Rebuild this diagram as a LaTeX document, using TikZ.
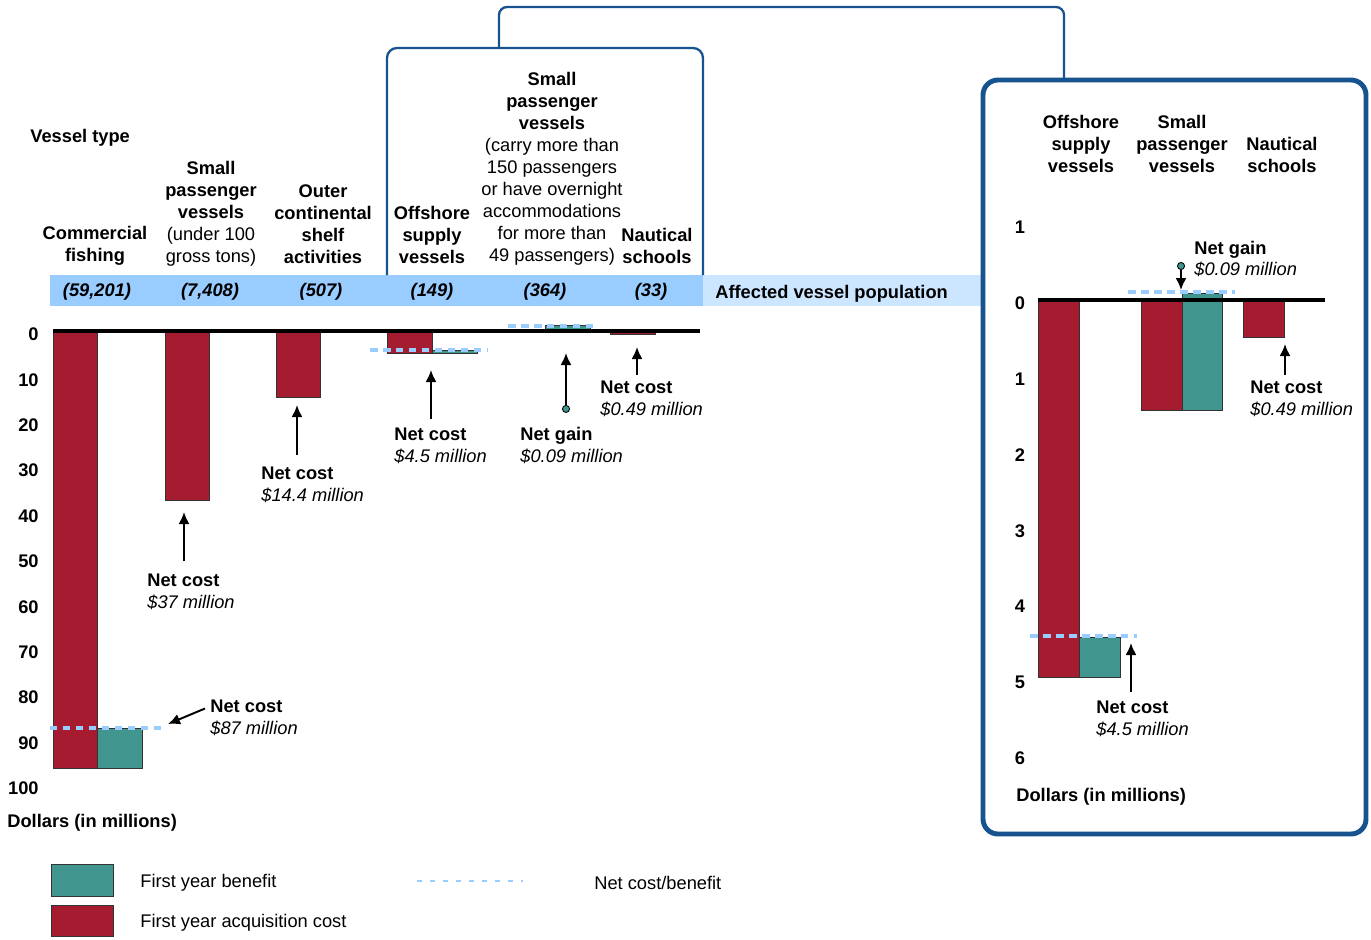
\documentclass[tikz,border=0pt]{standalone}
\usepackage{fontspec}
\setmainfont{Liberation Sans}
\usetikzlibrary{arrows.meta}

\newcommand{\chartfont}{\fontsize{10.4}{12.5}\selectfont}
\definecolor{cost}{HTML}{A51B30}
\definecolor{gain}{HTML}{40968E}
\definecolor{band}{HTML}{99CCFF}
\definecolor{bandlight}{HTML}{CCE6FF}
\definecolor{frame}{HTML}{17538F}
\definecolor{netline}{HTML}{99CCFF}

\begin{document}
\begin{tikzpicture}[
       x=0.02cm,
       y=-0.02cm,
       head/.style={align=center, inner sep=0pt, yshift=-0.04cm, font=\chartfont\bfseries},
       hplain/.style={align=center, inner sep=0pt, yshift=-0.04cm, font=\chartfont},
       plain/.style={anchor=west, inner sep=0pt, yshift=-0.04cm, font=\chartfont},
       count/.style={inner sep=0pt, yshift=-0.04cm, font=\chartfont\bfseries\itshape},
       tick/.style={inner sep=0pt, yshift=-0.03cm, font=\chartfont\bfseries},
       note/.style={align=left, anchor=west, inner sep=0pt, yshift=-0.04cm, font=\chartfont},
       costbar/.style={fill=cost, draw=black!80, line width=0.5pt},
       gainbar/.style={fill=gain, draw=black!80, line width=0.5pt},
       axisline/.style={line width=2.3pt},
       netdash/.style={draw=netline, line width=1.8pt, dash pattern=on 0.15cm off 0.11cm},
       legdash/.style={draw=netline, line width=1.1pt, dash pattern=on 0.1cm off 0.16cm},
       legbox/.style={draw=black!80, line width=0.5pt, minimum width=1.24cm, minimum height=0.63cm, inner sep=0pt},
       arr/.style={line width=1.1pt, -{Latex[length=2.4mm,width=2.2mm]}},
       gainarr/.style={line width=1.1pt, {Circle[length=1.6mm,fill=gain,line width=0.5pt]}-{Latex[length=2.4mm,width=2.2mm]}},
       frameline/.style={draw=frame, line width=1.3pt, rounded corners=0.2cm},
       panel/.style={draw=frame, line width=2.8pt, rounded corners=0.3cm}
     ]
       \useasboundingbox (0,0) rectangle (1371,939);

       % population band
       \fill[band] (50,275) rectangle (703,306);
       \fill[bandlight] (703,275) rectangle (983,306);

       % frames
       \draw[frameline] (387,275) -- (387,48) -- (703,48) -- (703,275);
       \draw[panel] (983,80) rectangle (1366,834);
       \coordinate (boxtop) at (499,48);
       \coordinate (paneltop) at (1064,80);
       \coordinate (linktop) at (780,7);
       \draw[frameline, rounded corners=0.16cm] (boxtop) |- (linktop) -| (paneltop);

       % headers
       \node (vt) at (30,136) [plain, font=\chartfont\bfseries] {Vessel type};
       \node (hcf) at (95,244) [head] {Commercial\\fishing};
       \node (hspv) at (211,212) [hplain] {\textbf{Small}\\\textbf{passenger}\\\textbf{vessels}\\(under 100\\gross tons)};
       \node (hocs) at (323,222) [head] {Outer\\continental\\shelf\\activities};
       \node (hosv) at (432,233) [head] {Offshore\\supply\\vessels};
       \node (hspl) at (552,166.5) [hplain] {\textbf{Small}\\\textbf{passenger}\\\textbf{vessels}\\(carry more than\\150 passengers\\or have overnight\\accommodations\\for more than\\49 passengers)};
       \node (hns) at (657,244) [head] {Nautical\\schools};

       \node (rhosv) at (1081,142) [head] {Offshore\\supply\\vessels};
       \node (rhspl) at (1182,142) [head] {Small\\passenger\\vessels};
       \node (rhns) at (1282,153) [head] {Nautical\\schools};

       % counts
       \node (ccf) at (97,290) [count] {(59,201)};
       \node (cspv) at (210,290) [count] {(7,408)};
       \node (cocs) at (321,290) [count] {(507)};
       \node (cosv) at (432,290) [count] {(149)};
       \node (cspl) at (545,290) [count] {(364)};
       \node (cns) at (651,290) [count] {(33)};
       \node (avp) at (715,292) [plain, font=\chartfont\bfseries] {Affected vessel population};

       % left chart
       \foreach \v in {0,10,...,100}
         \node (lt\v) at (39,{333+4.54*\v}) [tick, anchor=east] {\v};
       \node (lunit) at (7,821) [plain, font=\chartfont\bfseries] {Dollars (in millions)};

       \draw[costbar] (53,331) rectangle (97,768);
       \draw[gainbar] (97,728) rectangle (142,768);
       \draw[costbar] (165,331) rectangle (209,500);
       \draw[costbar] (276,331) rectangle (320,397);
       \draw[costbar] (387,331) rectangle (432,353);
       \draw[gainbar] (432,350) rectangle (477,353);
       \draw[gainbar] (545,325) rectangle (590,329);
       \draw[costbar] (610,331) rectangle (655,334);
       \draw[axisline] (53,331) -- (700,331);

       \draw[netdash] (50,728) -- (165,728);
       \draw[netdash] (370,350) -- (487,350);
       \draw[netdash] (508,326) -- (598,326);

       \node (nc87) at (210,715.5) [note] {\textbf{Net cost}\\\textit{\$87 million}};
       \node (nc37) at (147,589.5) [note] {\textbf{Net cost}\\\textit{\$37 million}};
       \node (nc144) at (261,483) [note] {\textbf{Net cost}\\\textit{\$14.4 million}};
       \node (nc45) at (394,443.5) [note] {\textbf{Net cost}\\\textit{\$4.5 million}};
       \node (ng09) at (520,443.5) [note] {\textbf{Net gain}\\\textit{\$0.09 million}};
       \node (nc049) at (600,397) [note] {\textbf{Net cost}\\\textit{\$0.49 million}};

       \coordinate (b87) at (168,724);
       \coordinate (b37) at (184,512);
       \coordinate (b144) at (297,405);
       \coordinate (b45) at (431,370);
       \coordinate (b09) at (566,353);
       \coordinate (b049) at (637,347);

       \draw[arr] ([shift={(-5,-9)}]nc87.west) -- (b87);
       \draw[arr] (b37 |- nc37.north) ++(0,-12) -- (b37);
       \draw[arr] (b144 |- nc144.north) ++(0,-12) -- (b144);
       \draw[arr] (b45 |- nc45.north) ++(0,-8) -- (b45);
       \draw[gainarr] (b09 |- ng09.north) ++(0,-14) -- (b09);
       \draw[arr] (b049 |- nc049.north) ++(0,-6) -- (b049);

       % right chart
       \foreach \v/\t in {-1/1,0/0,1/1,2/2,3/3,4/4,5/5,6/6}
         \node (rt\v) at (1020,{302+75.8*\v}) [tick] {\t};
       \node (runit) at (1016,795) [plain, font=\chartfont\bfseries] {Dollars (in millions)};

       \draw[costbar] (1038,300) rectangle (1079,677);
       \draw[gainbar] (1079,637) rectangle (1120,677);
       \draw[costbar] (1141,300) rectangle (1182,410);
       \draw[gainbar] (1182,293) rectangle (1222,410);
       \draw[costbar] (1243,300) rectangle (1284,337);
       \draw[axisline] (1038,300) -- (1325,300);

       \draw[netdash] (1030,636) -- (1137,636);
       \draw[netdash] (1128,292) -- (1235,292);

       \node (rng09) at (1194,257) [note] {\textbf{Net gain}\\\textit{\$0.09 million}};
       \node (rnc049) at (1250,397) [note] {\textbf{Net cost}\\\textit{\$0.49 million}};
       \node (rnc45) at (1096,717) [note] {\textbf{Net cost}\\\textit{\$4.5 million}};

       \coordinate (rb09) at (1181,290);
       \coordinate (rb049) at (1285,344);
       \coordinate (rb45) at (1131,643);

       \draw[gainarr] ([shift={(-13,3)}]rng09.west) -- (rb09);
       \draw[arr] (rb049 |- rnc049.north) ++(0,-6) -- (rb049);
       \draw[arr] (rb45 |- rnc45.north) ++(0,-9) -- (rb45);

       % legend
       \node (legben) at (82,880.5) [legbox, fill=gain] {};
       \node (legcost) at (82,921) [legbox, fill=cost] {};
       \node (legbentxt) at (140,881) [plain] {First year benefit};
       \node (legcosttxt) at (140,921) [plain] {First year acquisition cost};
       \coordinate (legd1) at (417,881);
       \coordinate (legd2) at (523,881);
       \draw[legdash] (legd1) -- (legd2);
       \node (legnettxt) at (594,881) [plain] {Net cost/benefit};

\end{tikzpicture}
\end{document}
